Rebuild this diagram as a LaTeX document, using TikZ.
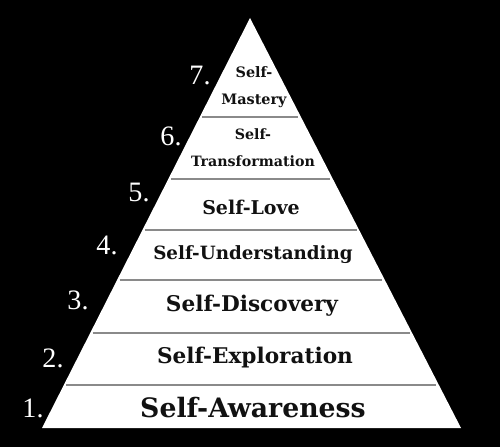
\documentclass[tikz,border=0pt]{standalone}
\usepackage{fontspec}
\setmainfont{Liberation Serif}
\newfontfamily\tierfont{DejaVu Serif}
\usetikzlibrary{calc}
\definecolor{night}{HTML}{000000}
\definecolor{chalk}{HTML}{FFFFFF}
\definecolor{rulegray}{HTML}{8A8A8A}
\definecolor{ink}{HTML}{111111}
\tikzset{
  tier/.style={align=center,inner sep=0pt,text=ink},
  tiernum/.style={inner sep=0pt,text=chalk,
                  font=\fontsize{16}{18}\selectfont},
  sepline/.style={draw=rulegray,line width=0.6pt}
}
\newcommand{\tiersize}[2]{\tierfont\bfseries\fontsize{#1}{#2}\selectfont}

\begin{document}
\begin{tikzpicture}[x=1cm,y=1cm]
  \fill[night] (0,0) rectangle (10,8.94);
  \coordinate (apex) at (5.0,8.58);
  \coordinate (bl) at (0.84,0.38);
  \coordinate (br) at (9.22,0.38);
  \fill[chalk] (bl) -- (apex) -- (br) -- cycle;
  \foreach \t in {0.1049,0.2317,0.3610,0.4829,0.6073,0.7585}
    \draw[sepline] ($(bl)!\t!(apex)+(0.05,0)$) -- ($(br)!\t!(apex)-(0.05,0)$);

  \node[tier,font=\tiersize{15.2}{17}] (aware) at (5.06,0.78) {Self-Awareness};
  \node[tier,font=\tiersize{12.3}{14}] (explore) at (5.10,1.78) {Self-Exploration};
  \node[tier,font=\tiersize{12.3}{14}] (discover) at (5.04,2.82) {Self-Discovery};
  \node[tier,font=\tiersize{10.4}{12}] (understand) at (5.06,3.84) {Self-Understanding};
  \node[tier,font=\tiersize{10.8}{12}] (love) at (5.02,4.80) {Self-Love};
  \node[tier,font=\tiersize{8.1}{15.4}] (transform) at (5.06,5.98) {Self-\\Transformation};
  \node[tier,font=\tiersize{8.2}{15.4}] (mastery) at (5.08,7.19) {Self-\\Mastery};

  \node[tiernum] (n1) at (0.66,0.78) {1.};
  \node[tiernum] (n2) at (1.06,1.78) {2.};
  \node[tiernum] (n3) at (1.56,2.94) {3.};
  \node[tiernum] (n4) at (2.14,4.04) {4.};
  \node[tiernum] (n5) at (2.78,5.10) {5.};
  \node[tiernum] (n6) at (3.42,6.22) {6.};
  \node[tiernum] (n7) at (4.00,7.44) {7.};
\end{tikzpicture}
\end{document}
